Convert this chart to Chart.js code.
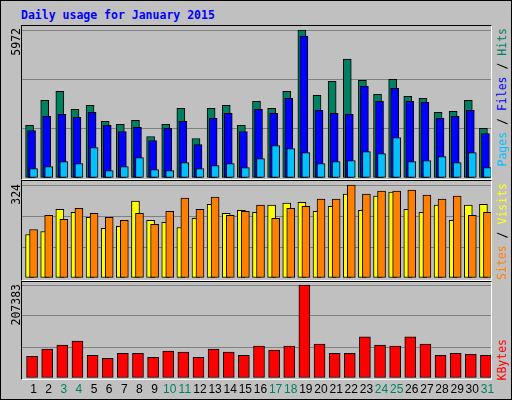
<!DOCTYPE html>
<html>
<head>
<meta charset="utf-8">
<script src="https://cdn.jsdelivr.net/npm/chart.js@4/dist/chart.umd.min.js"></script>
<style>
body { margin: 0; background: #c0c0c0; }
#wrap { position: relative; width: 510px; height: 398px; background: #c0c0c0; border: 1px solid #000; overflow: hidden; }
.panel { position: absolute; left: 20px; width: 469px; border-top: 1px solid #000; border-left: 1px solid #000; border-right: 1px solid #fff; border-bottom: 1px solid #fff; }
canvas { position: absolute; }
.vl { position: absolute; writing-mode: vertical-rl; transform: rotate(180deg); font: 11.5px "DejaVu Sans Mono", monospace; white-space: nowrap; }
#title { position: absolute; left: 20px; top: 7px; font: bold 11.5px "DejaVu Sans Mono", monospace; color: #0000ff; }
.day { position: absolute; top: 381px; font: 12px "Liberation Sans", sans-serif; width: 20px; margin-left: -10px; text-align: center; }
</style>
</head>
<body>
<div id="wrap">
  <div id="title">Daily usage for January 2015</div>
  <div class="panel" style="top:24px;height:153px"></div>
  <div class="panel" style="top:179px;height:99px"></div>
  <div class="panel" style="top:280px;height:97px"></div>
  <canvas id="c1" style="left:21px;top:26px;width:469px;height:151px"></canvas>
  <canvas id="c2" style="left:21px;top:181px;width:469px;height:96px"></canvas>
  <canvas id="c3" style="left:21px;top:281px;width:469px;height:96px"></canvas>
  <div class="vl" style="left:8px;top:27px">5972</div>
  <div class="vl" style="left:8px;top:183px">324</div>
  <div class="vl" style="left:8px;top:283px">207383</div>
  <div class="vl" style="left:494px;top:27px"><span style="color:#00c0ff">Pages</span> / <span style="color:#0000ff">Files</span> / <span style="color:#008060">Hits</span></div>
  <div class="vl" style="left:494px;top:182px"><span style="color:#ff8000">Sites</span> / <span style="color:#ffff00">Visits</span></div>
  <div class="vl" style="left:494px;top:338px;color:#ff0000">KBytes</div>
</div>
<script>
// ข้อมูลรายวัน มกราคม 2015
const days = Array.from({ length: 31 }, (_, i) => i + 1);
const weekendDays = [3, 4, 10, 11, 17, 18, 24, 25, 31];
const hits = [2121, 3134, 3499, 2770, 2932, 2283, 2162, 2324, 1675, 2162, 2810, 1594, 2810, 2932, 2121, 3094, 2810, 3499, 5972, 3337, 3904, 4796, 3945, 3378, 3986, 3297, 3216, 2648, 2689, 3134, 2000];
const files = [1918, 2486, 2567, 2445, 2648, 2121, 1878, 2040, 1513, 2000, 2283, 1351, 2405, 2607, 1878, 2770, 2607, 3215, 5728, 2729, 2607, 2567, 3702, 3094, 3621, 3094, 3053, 2405, 2486, 2729, 1797];
const pages = [378, 459, 662, 581, 1229, 297, 459, 824, 338, 297, 621, 378, 500, 581, 419, 784, 1310, 1189, 1027, 581, 662, 703, 1067, 986, 1635, 662, 703, 865, 621, 1027, 419];
const visits = [151, 162, 239, 229, 211, 173, 180, 268, 201, 194, 176, 208, 257, 225, 236, 229, 254, 261, 264, 232, 250, 292, 236, 285, 299, 239, 229, 254, 201, 254, 257];
const sites = [169, 218, 204, 243, 225, 211, 201, 225, 187, 232, 278, 239, 282, 218, 232, 254, 208, 243, 250, 275, 275, 324, 292, 303, 303, 306, 289, 275, 285, 218, 229];
const kbytes = [48442, 64337, 73419, 82502, 50712, 43900, 55254, 55254, 46171, 59795, 57524, 46171, 64337, 57524, 50712, 71149, 62066, 71149, 207383, 75690, 55254, 55254, 91585, 73419, 71149, 91585, 75690, 50712, 55254, 52983, 50712];

const unit = 469 / 31; // พิกเซลต่อวัน

function ds(values, offsetPx, color, width, order) {
  return {
    data: days.map((d, i) => ({ x: d + offsetPx / unit, y: values[i] })),
    backgroundColor: color,
    borderColor: '#000',
    borderWidth: 1,
    borderSkipped: false,
    barThickness: width,
    grouped: false,
    clip: false,
    order: order
  };
}

function makeChart(id, datasets, max, padTop) {
  return new Chart(document.getElementById(id), {
    type: 'bar',
    data: { datasets: datasets },
    options: {
      responsive: false,
      animation: false,
      layout: { padding: { top: padTop, left: 0, right: 0, bottom: 0 } },
      plugins: { legend: { display: false }, tooltip: { enabled: false } },
      scales: {
        x: { type: 'linear', min: 0.5, max: 31.5, offset: false, display: false },
        y: {
          min: 0, max: max, display: true,
          ticks: { display: false, stepSize: max / 3 },
          grid: { color: '#808080', drawTicks: false, lineWidth: 1 },
          border: { display: false }
        }
      }
    }
  });
}

function setSize(id, w, h) {
  const c = document.getElementById(id);
  c.width = w; c.height = h;
}
setSize('c1', 469, 151); setSize('c2', 469, 96); setSize('c3', 469, 96);

makeChart('c1', [
  ds(hits, 0, '#008060', 8, 3),
  ds(files, 2, '#0000ff', 8, 2),
  ds(pages, 4, '#00c0ff', 8, 1)
], 5972, 3);
makeChart('c2', [
  ds(visits, 0, '#ffff00', 8, 2),
  ds(sites, 4, '#ff8000', 8, 1)
], 324, 3);
makeChart('c3', [
  ds(kbytes, 2.5, '#ff0000', 11, 1)
], 207383, 3);

// ตัวเลขวันที่ใต้กราฟ
const wrap = document.getElementById('wrap');
days.forEach(d => {
  const el = document.createElement('div');
  el.className = 'day';
  el.textContent = d;
  el.style.left = (21 + unit * (d - 0.5) + 4) + 'px';
  el.style.color = weekendDays.includes(d) ? '#008060' : '#000';
  wrap.appendChild(el);
});
</script>
</body>
</html>
